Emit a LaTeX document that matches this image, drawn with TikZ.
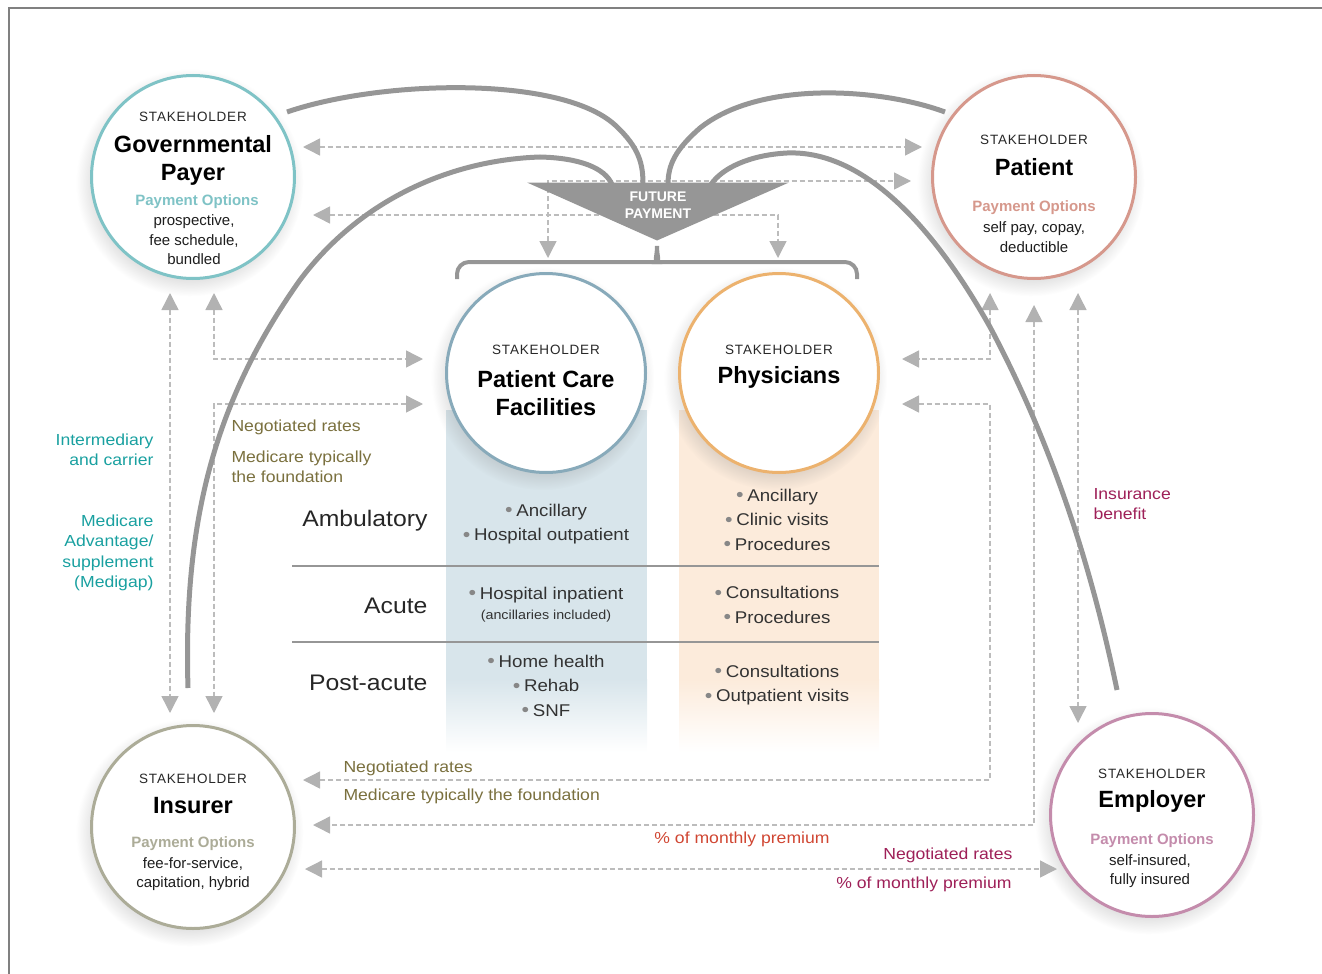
\documentclass[tikz,border=0pt]{standalone}
\usepackage{fontspec}
\usepackage{graphicx}
\setmainfont{Liberation Sans}
\newfontfamily\widesans[FakeStretch=1.1]{Liberation Sans}
\newfontfamily\trackedsans[LetterSpace=6]{Liberation Sans}
\usetikzlibrary{arrows.meta,calc,shadows,fadings}

\definecolor{govcol}{RGB}{127,195,198}
\definecolor{patcol}{RGB}{214,152,140}
\definecolor{pcfcol}{RGB}{136,170,186}
\definecolor{phycol}{RGB}{236,178,110}
\definecolor{inscol}{RGB}{172,172,152}
\definecolor{empcol}{RGB}{196,140,172}
\definecolor{pcfbg}{RGB}{216,229,235}
\definecolor{phybg}{RGB}{252,235,219}
\definecolor{curvegray}{RGB}{150,150,150}
\definecolor{dashgray}{RGB}{188,188,188}
\definecolor{tipgray}{RGB}{178,178,178}
\definecolor{framegray}{RGB}{128,128,128}
\definecolor{tealtxt}{RGB}{25,160,160}
\definecolor{olivetxt}{RGB}{122,112,62}
\definecolor{redtxt}{RGB}{208,70,50}
\definecolor{plumtxt}{RGB}{158,32,88}
\definecolor{bulgray}{RGB}{135,135,135}
\definecolor{stktxt}{RGB}{40,40,40}
\definecolor{bodytxt}{RGB}{30,30,30}

\newcommand{\bul}{{\color{bulgray}\raisebox{-0.03em}{\scalebox{1.15}{\textbullet}}}\hspace{0.22em}}

\begin{document}
\begin{tikzpicture}[x=1pt,y=-1pt,
    stakecirc/.style={circle,minimum size=203pt,line width=3pt,fill=white,outer sep=0pt,
      circular drop shadow={shadow scale=1.12,shadow xshift=-3pt,shadow yshift=-5pt,opacity=0.22}},
    stk/.style={font=\trackedsans\fontsize{13.5}{16}\selectfont,text=stktxt},
    ttl/.style={font=\bfseries\fontsize{23.5}{28}\selectfont,align=center},
    popt/.style={font=\bfseries\fontsize{15}{18}\selectfont},
    optx/.style={font=\fontsize{15}{19.5}\selectfont,align=center,text=bodytxt},
    item/.style={font=\widesans\fontsize{17}{24.5}\selectfont,align=center,text=black!80},
    rowlbl/.style={font=\widesans\fontsize{22.5}{26}\selectfont,anchor=east,text=black!85},
    lbl/.style={font=\widesans\fontsize{16}{20.3}\selectfont},
    dline/.style={draw=dashgray,line width=1.4pt,dash pattern=on 5pt off 3pt,<->,
      >={Triangle[length=17pt,width=17pt,color=tipgray]}},
    flow/.style={draw=curvegray,line width=5pt},
  ]
  \useasboundingbox (0,0) rectangle (1322,974);
  \draw[framegray,line width=2pt] (9,980) -- (9,8) -- (1330,8);

  % columns behind the two provider circles
  \fill[pcfbg] (446,410) rectangle (647,680);
  \shade[top color=pcfbg,bottom color=white] (446,679) rectangle (647,752);
  \fill[phybg] (679,410) rectangle (879,680);
  \shade[top color=phybg,bottom color=white] (679,679) rectangle (879,752);
  \draw[curvegray,line width=1.5pt] (292,566) -- (879,566);
  \draw[curvegray,line width=1.5pt] (292,642) -- (879,642);

  \node[rowlbl] (amb) at (431,521) {Ambulatory};
  \node[rowlbl] (acu) at (431,606) {Acute};
  \node[rowlbl] (post) at (431,683) {Post-acute};

  % stakeholders
  \node[stakecirc,draw=govcol] (gov) at (193,177) {};
  \node[stakecirc,draw=patcol] (pat) at (1034,177) {};
  \node[stakecirc,draw=pcfcol,minimum size=199pt] (pcf) at (546,373) {};
  \node[stakecirc,draw=phycol,minimum size=199pt] (phys) at (779,373) {};
  \node[stakecirc,draw=inscol] (ins) at (193,827) {};
  \node[stakecirc,draw=empcol] (emp) at (1152,815) {};

  \node[stk] (govstk) at ($(gov)+(0,-60)$) {STAKEHOLDER};
  \node[ttl] (govttl) at ($(gov)+(0,-17)$) {Governmental\\Payer};
  \node[popt,text=govcol] (govpo) at ($(gov)+(4,25)$) {Payment Options};
  \node[optx] (govopt) at ($(gov)+(1,63)$) {prospective,\\fee schedule,\\bundled};

  \node[stk] (patstk) at ($(pat)+(0,-37)$) {STAKEHOLDER};
  \node[ttl] (patttl) at ($(pat)+(0,-10)$) {Patient};
  \node[popt,text=patcol] (patpo) at ($(pat)+(0,31)$) {Payment Options};
  \node[optx] (patopt) at ($(pat)+(0,60)$) {self pay, copay,\\deductible};

  \node[stk] (pcfstk) at ($(pcf)+(0,-23)$) {STAKEHOLDER};
  \node[ttl] (pcfttl) at ($(pcf)+(0,20)$) {Patient Care\\Facilities};

  \node[stk] (physstk) at ($(phys)+(0,-23)$) {STAKEHOLDER};
  \node[ttl] (physttl) at ($(phys)+(0,4)$) {Physicians};

  \node[stk] (insstk) at ($(ins)+(0,-48)$) {STAKEHOLDER};
  \node[ttl] (insttl) at ($(ins)+(0,-21)$) {Insurer};
  \node[popt,text=inscol] (inspo) at ($(ins)+(0,17)$) {Payment Options};
  \node[optx] (insopt) at ($(ins)+(0,47)$) {fee-for-service,\\capitation, hybrid};

  \node[stk] (empstk) at ($(emp)+(0,-41)$) {STAKEHOLDER};
  \node[ttl] (empttl) at ($(emp)+(0,-14)$) {Employer};
  \node[popt,text=empcol] (emppo) at ($(emp)+(0,26)$) {Payment Options};
  \node[optx] (empopt) at ($(emp)+(-2,56)$) {self-insured,\\fully insured};

  % what each provider covers
  \node[item] (pcfamb) at (546,524) {\bul Ancillary\\\bul Hospital outpatient};
  \node[item] (pcfacu) at (546,595) {\bul Hospital inpatient};
  \node[item,font=\widesans\fontsize{13}{15}\selectfont] (pcfacu2) at (546,616) {(ancillaries included)};
  \node[item] (pcfpost) at (546,686) {\bul Home health\\\bul Rehab\\\bul SNF};
  \node[item] (phyamb) at (777,520) {\bul Ancillary\\\bul Clinic visits\\\bul Procedures};
  \node[item] (phyacu) at (777,605) {\bul Consultations\\\bul Procedures};
  \node[item] (phypost) at (777,685) {\bul Consultations\\\bul Outpatient visits};

  % dashed links
  \draw[dline] ($(gov.east)+(8.5,-30)$) -- ($(pat.west)+(-10.5,-30)$);
  \draw[dline] ($(pcf.north)+(2,-15.5)$) |- ($(pat.west)+(-21.5,4)$);
  \draw[dline] ($(gov.east)+(18.5,38)$) -| ($(phys.north)+(-1,-15.5)$);
  \draw[dline] ($(gov.south)+(-23,14.5)$) -- ($(ins.north)+(-23,-12.5)$);
  \draw[dline] ($(gov.south)+(21,14.5)$) |- ($(pcf.west)+(-23.5,-14)$);
  \draw[dline] ($(pcf.west)+(-23.5,31)$) -| ($(ins.north)+(21,-12.5)$);
  \draw[dline] ($(pat.south)+(-44,14.5)$) |- ($(phys.east)+(23.5,-14)$);
  \draw[dline] ($(phys.east)+(23.5,31)$) -| ($(ins.east)+(695.5,-47)$) -- ($(ins.east)+(8.5,-47)$);
  \draw[dline] ($(pat.south)+(0,26.5)$) |- ($(ins.east)+(18.5,-2)$);
  \draw[dline] ($(pat.south)+(44,14.5)$) -- ($(emp.north)+(-74,9.5)$);
  \draw[dline] ($(ins.east)+(10.5,42)$) -- ($(emp.west)+(6.5,54)$);

  \node[lbl,text=tealtxt,anchor=east,align=right] (carrier) at (157,450) {Intermediary\\and carrier};
  \node[lbl,text=tealtxt,anchor=east,align=right] (medigap) at (157,553) {Medicare\\Advantage/\\supplement\\(Medigap)};
  \node[lbl,text=olivetxt,anchor=west] (negtop) at (228,427) {Negotiated rates};
  \node[lbl,text=olivetxt,anchor=west,align=left] (medtop) at (228,467) {Medicare typically\\the foundation};
  \node[lbl,text=plumtxt,anchor=west,align=left] (benefit) at (1090,504) {Insurance\\benefit};
  \node[lbl,text=olivetxt,anchor=west] (negbot) at (340,768) {Negotiated rates};
  \node[lbl,text=olivetxt,anchor=west] (medbot) at (340,796) {Medicare typically the foundation};
  \node[lbl,text=redtxt] (premred) at (742,839) {\% of monthly premium};
  \node[lbl,text=plumtxt,anchor=east] (negemp) at (1016,855) {Negotiated rates};
  \node[lbl,text=plumtxt,anchor=east] (prememp) at (1015,884) {\% of monthly premium};

  % flows into future payment
  \coordinate (futtop) at (657,182.5);
  \draw[flow] ($(gov)+(94,-65)$) .. controls (380,80) and (560,75) .. (615,125)
    .. controls (640,148) and (643,165) .. ($(futtop)+(-14,2)$);
  \draw[flow] ($(pat)+(-89,-65)$) .. controls (880,88) and (760,80) .. (700,128)
    .. controls (675,150) and (668,165) .. ($(futtop)+(11,2)$);
  \draw[flow] ($(ins)+(-5,-139)$) .. controls (183,520) and (215,400) .. (300,280)
    .. controls (360,200) and (450,160) .. (540,157)
    .. controls (580,158) and (605,168) .. ($(futtop)+(-45,2)$);
  \draw[flow] ($(emp)+(-35,-125)$) .. controls (1090,560) and (1050,440) .. (990,327)
    .. controls (930,220) and (860,150) .. (787,153)
    .. controls (750,155) and (722,168) .. ($(futtop)+(54,2)$);

  \fill[curvegray] ($(futtop)+(-130,0)$) -- ($(futtop)+(132,0)$) -- ($(futtop)+(0,58)$) -- cycle;
  \node[font=\bfseries\fontsize{14}{17}\selectfont,text=white,align=center] (fut) at ($(futtop)+(1,22.5)$) {FUTURE\\PAYMENT};

  % brace over the providers
  \draw[curvegray,line width=4pt,rounded corners=12pt] (457,279) |- (645,262)
    .. controls (654,262) and (657,256) .. (657,246);
  \draw[curvegray,line width=4pt,rounded corners=12pt] (857,279) |- (669,262)
    .. controls (660,262) and (657,256) .. (657,246);
\end{tikzpicture}
\end{document}
